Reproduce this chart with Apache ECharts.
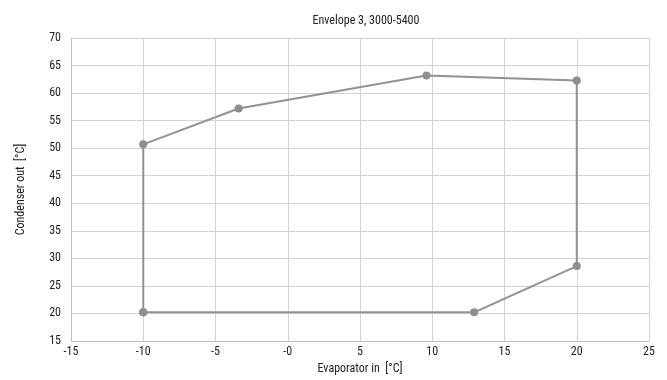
<!DOCTYPE html>
<html>
<head>
<meta charset="utf-8">
<script src="https://cdn.jsdelivr.net/npm/echarts@6/dist/echarts.min.js"></script>
<style>html,body{margin:0;padding:0;background:#fff}#c{width:667px;height:380px}</style>
</head>
<body>
<div id="c"></div>
<script>
var title = 'Envelope 3, 3000-5400';
var xName = 'Evaporator in  [°C]';
var yName = 'Condenser out  [°C]';
var evapIn  = [-10, 12.9, 20, 20, 9.6, -3.4, -10, -10];
var condOut = [20.2, 20.2, 28.6, 62.3, 63.2, 57.2, 50.7, 20.2];
var xTickValues = [-15, -10, -5, 0, 5, 10, 15, 20, 25];
var xTickLabels = ['-15', '-10', '-5', '-0', '5', '10', '15', '20', '25'];

var pts = evapIn.map(function (x, i) { return [x, condOut[i]]; });
var font = '"Roboto Condensed", "DejaVu Sans Condensed", Roboto, sans-serif';
var chart = echarts.init(document.getElementById('c'), null, {renderer: 'canvas'});
chart.setOption({
  animation: false,
  title: {
    text: title, left: 361, top: 10, textAlign: 'center',
    textStyle: {fontFamily: font, fontSize: 12, fontWeight: 'normal', color: '#222'}
  },
  grid: {left: 71, right: 18, top: 38, bottom: 39},
  xAxis: {
    type: 'value', min: -15, max: 25, interval: 5,
    name: xName, nameLocation: 'middle', nameGap: 21,
    nameTextStyle: {fontFamily: font, fontSize: 12, color: '#222'},
    axisLine: {show: true, onZero: false, lineStyle: {color: '#bfbfbf'}},
    axisTick: {show: false},
    axisLabel: {
      fontFamily: font, fontSize: 12, color: '#222', margin: 5,
      formatter: function (v) { var i = xTickValues.indexOf(v); return i >= 0 ? xTickLabels[i] : String(v); }
    },
    splitLine: {show: true, lineStyle: {color: '#d4d4d4', width: 1}}
  },
  yAxis: {
    type: 'value', min: 15, max: 70, interval: 5,
    name: yName, nameLocation: 'middle', nameGap: 44, nameRotate: 90,
    nameTextStyle: {fontFamily: font, fontSize: 12, color: '#222'},
    axisLine: {show: true, onZero: false, lineStyle: {color: '#bfbfbf'}},
    axisTick: {show: false},
    axisLabel: {fontFamily: font, fontSize: 12, color: '#222', margin: 10},
    splitLine: {show: true, lineStyle: {color: '#d4d4d4', width: 1}}
  },
  series: [{
    type: 'line',
    data: pts,
    symbol: 'circle', symbolSize: 8,
    lineStyle: {color: '#929296', width: 2},
    itemStyle: {color: '#8e8e92'}
  }]
});
</script>
</body>
</html>
